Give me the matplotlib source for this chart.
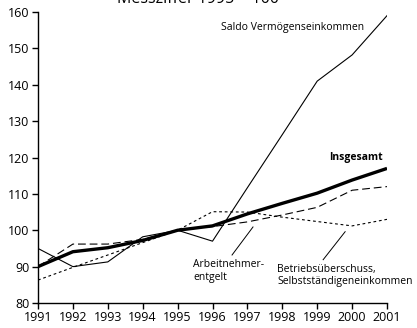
import matplotlib.pyplot as plt

plt.rcParams['font.family'] = ['Open Sans', 'DejaVu Sans']

jahre = [1991, 1992, 1993, 1994, 1995, 1996, 1997, 1998, 1999, 2000, 2001]
saldo_vermoegen = [95, 90, 91.3, 98.2, 100, 97, 111.7, 126.3, 141, 148.2, 159]
insgesamt = [90, 94.1, 95.2, 97.2, 100, 101.2, 104.5, 107.4, 110.2, 113.8, 117]
arbeitnehmer = [90, 96.2, 96.2, 97.5, 100, 101, 102.3, 104.2, 106.3, 111, 112]
betrieb = [86.3, 89.8, 93.2, 96.6, 100, 105.1, 105, 103.6, 102.4, 101.2, 103]

fig = plt.figure(figsize=(4.17, 3.28), dpi=100)
ax = fig.add_axes([0.0911, 0.0762, 0.837, 0.8872])

ax.plot(jahre, saldo_vermoegen, color='black', linewidth=0.8)
ax.plot(jahre, insgesamt, color='black', linewidth=2.4, solid_capstyle='butt')
ax.plot(jahre, arbeitnehmer, color='black', linewidth=0.8, dashes=(7, 3.5))
ax.plot(jahre, betrieb, color='black', linewidth=0.8, dashes=(2.5, 2.5))

ax.set_xlim(1991, 2001)
ax.set_ylim(80, 160)
ax.set_xticks(jahre)
ax.set_yticks(range(80, 161, 10))
ax.tick_params(direction='out', length=4, width=1, labelsize=9, pad=2,
               colors='black')
for side in ('top', 'right'):
    ax.spines[side].set_visible(False)
for side in ('left', 'bottom'):
    ax.spines[side].set_linewidth(1)

# labels and pointer lines
ax.text(1996.25, 155.8, 'Saldo Vermögenseinkommen', fontsize=7.5, va='center')
ax.text(2000.88, 119.9, 'Insgesamt', fontsize=7.5, fontweight='bold',
        ha='right', va='center')
ax.text(1995.45, 88.8, 'Arbeitnehmer-\nentgelt', fontsize=7.5,
        va='center', linespacing=1.2)
ax.plot([1996.56, 1997.16], [93.2, 100.9], color='black', linewidth=0.7)
ax.text(1997.85, 87.6, 'Betriebsüberschuss,\nSelbstständigeneinkommen',
        fontsize=7.5, va='center', linespacing=1.2)
ax.plot([1999.17, 1999.8], [91.9, 99.6], color='black', linewidth=0.7)

fig.text(0.475, 0.992, 'Messziffer 1995 = 100', fontsize=11.5,
         ha='center', va='baseline')

fig.savefig('out.png', dpi=100)
